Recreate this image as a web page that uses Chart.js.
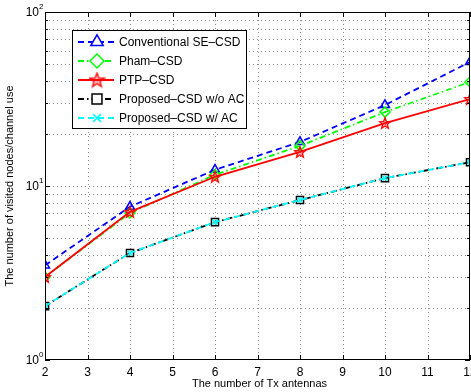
<!DOCTYPE html>
<html><head><meta charset="utf-8">
<script src="https://cdn.jsdelivr.net/npm/chart.js@4/dist/chart.umd.min.js"></script>
<style>html,body{margin:0;padding:0;background:#fff;overflow:hidden}</style>
</head><body>
<canvas id="c" width="471" height="392"></canvas>
<script>
// data
const txAntennas = [2, 4, 6, 8, 10, 12];
const conventional = [3.5, 7.6, 12.4, 17.9, 29.2, 51.6];
const pham = [3.0, 7.0, 11.6, 17.0, 26.6, 39.6];
const ptp = [3.0, 7.1, 11.3, 15.7, 23.0, 31.6];
const proposedNoAC = [2.04, 4.12, 6.2, 8.3, 11.1, 13.7];
const proposedAC = [2.04, 4.12, 6.2, 8.3, 11.1, 13.7];
const seriesNames = ["Conventional SE\u2013CSD", "Pham\u2013CSD", "PTP\u2013CSD", "Proposed\u2013CSD w/o AC", "Proposed\u2013CSD w/ AC"];
const xTicks = [2, 3, 4, 5, 6, 7, 8, 9, 10, 11, 12];
const yTicks = [1, 2, 3, 4, 5, 6, 7, 8, 9, 10, 20, 30, 40, 50, 60, 70, 80, 90, 100];
const yMajor = [1, 10, 100];
const yExp = ["0", "1", "2"];

const FONT = "'Liberation Sans', Arial, sans-serif";

// pentagram marker for PTP-CSD
function makeStar(color, outer) {
  const size = Math.ceil(outer * 2 + 2);
  const cv = document.createElement("canvas");
  cv.width = size; cv.height = size;
  const c = cv.getContext("2d");
  c.beginPath();
  for (let i = 0; i < 10; i++) {
    const r = i % 2 === 0 ? outer : outer * 0.43;
    const a = -Math.PI / 2 + i * Math.PI / 5;
    const px = size / 2 + r * Math.cos(a), py = size / 2 + 0.5 + r * Math.sin(a);
    if (i === 0) c.moveTo(px, py); else c.lineTo(px, py);
  }
  c.closePath();
  c.fillStyle = "rgba(255,0,0,0.3)";
  c.fill();
  c.strokeStyle = color;
  c.lineWidth = 1.3;
  c.stroke();
  return cv;
}
const starImg = makeStar("#ff0000", 5.8);
const starLegend = makeStar("#ff0000", 7.5);

function pts(ys) { return txAntennas.map((x, i) => ({ x: x, y: ys[i] })); }

const styles = [
  { color: "#0000ff", dash: [6, 4], point: "triangle", r: 5.2 },
  { color: "#00ff00", dash: [6, 3, 1.5, 3], point: "rectRot", r: 5 },
  { color: "#ff0000", dash: [], point: starImg, r: 6 },
  { color: "#000000", dash: [6, 3, 1.5, 3], point: "rect", r: 5 },
  { color: "#00ffff", dash: [6, 4], point: "crossRot", r: 3.5 }
];
const allSeries = [conventional, pham, ptp, proposedNoAC, proposedAC];

const datasets = allSeries.map((s, i) => ({
  label: seriesNames[i],
  data: pts(s),
  borderColor: styles[i].color,
  backgroundColor: "rgba(0,0,0,0)",
  borderWidth: 1.8,
  borderDash: styles[i].dash,
  pointStyle: styles[i].point,
  pointRadius: styles[i].r,
  pointBorderWidth: 1.5,
  pointBorderColor: styles[i].color,
  pointBackgroundColor: "rgba(0,0,0,0)",
  tension: 0,
  order: 4 - i
}));

const frame = {
  id: "frame",
  beforeDatasetsDraw(chart) {
    const { ctx, chartArea: a, scales: { x, y } } = chart;
    ctx.save();
    ctx.strokeStyle = "rgba(0,0,0,0.45)";
    ctx.lineWidth = 1;
    ctx.setLineDash([1, 3]);
    xTicks.forEach(v => {
      const px = Math.round(x.getPixelForValue(v)) + 0.5;
      if (px <= a.left + 1 || px >= a.right - 1) return;
      ctx.beginPath(); ctx.moveTo(px, a.top); ctx.lineTo(px, a.bottom); ctx.stroke();
    });
    yTicks.forEach(v => {
      const py = Math.round(y.getPixelForValue(v)) + 0.5;
      if (py <= a.top + 1 || py >= a.bottom - 1) return;
      ctx.beginPath(); ctx.moveTo(a.left, py); ctx.lineTo(a.right, py); ctx.stroke();
    });
    ctx.restore();
  },
  afterDatasetsDraw(chart) {
    const { ctx, chartArea: a, scales: { x, y } } = chart;
    ctx.save();
    ctx.strokeStyle = "#000";
    ctx.lineWidth = 1;
    ctx.setLineDash([]);
    ctx.strokeRect(a.left + 0.5, a.top + 0.5, a.right - a.left - 1, a.bottom - a.top - 1);
    // inward tick marks
    xTicks.forEach(v => {
      const px = Math.round(x.getPixelForValue(v)) + 0.5;
      ctx.beginPath();
      ctx.moveTo(px, a.bottom); ctx.lineTo(px, a.bottom - 5);
      ctx.moveTo(px, a.top); ctx.lineTo(px, a.top + 5);
      ctx.stroke();
    });
    yTicks.forEach(v => {
      const py = Math.round(y.getPixelForValue(v)) + 0.5;
      const len = yMajor.includes(v) ? 5 : 3;
      ctx.beginPath();
      ctx.moveTo(a.left, py); ctx.lineTo(a.left + len, py);
      ctx.moveTo(a.right, py); ctx.lineTo(a.right - len, py);
      ctx.stroke();
    });
    // x tick labels
    ctx.fillStyle = "#000";
    ctx.font = "12px " + FONT;
    ctx.textAlign = "center";
    ctx.textBaseline = "middle";
    xTicks.forEach(v => { ctx.fillText(String(v), x.getPixelForValue(v), a.bottom + 13); });
    // y tick labels 10^n
    yMajor.forEach((v, i) => {
      const py = y.getPixelForValue(v);
      ctx.font = "12px " + FONT;
      ctx.textAlign = "right";
      ctx.textBaseline = "middle";
      ctx.fillText("10", a.left - 6, py + 1);
      ctx.font = "8px " + FONT;
      ctx.textAlign = "left";
      ctx.fillText(yExp[i], a.left - 6, py - 5);
    });
    // axis titles
    ctx.font = "11px " + FONT;
    ctx.textAlign = "center";
    ctx.textBaseline = "middle";
    ctx.fillText("The number of Tx antennas", (a.left + a.right) / 2 + 2, 384);
    ctx.save();
    ctx.translate(10, (a.top + a.bottom) / 2);
    ctx.rotate(-Math.PI / 2);
    ctx.fillText("The number of visited nodes/channel use", 0, 0);
    ctx.restore();
    // legend box
    const lx = 72, ly = 30, lw = 174, lh = 98;
    ctx.fillStyle = "#fff";
    ctx.fillRect(lx, ly, lw, lh);
    ctx.strokeStyle = "#000";
    ctx.strokeRect(lx + 0.5, ly + 0.5, lw, lh);
    chart.data.datasets.forEach((ds, i) => {
      const cy = 42 + i * 19;
      ctx.save();
      ctx.strokeStyle = ds.borderColor;
      ctx.lineWidth = ds.borderWidth;
      ctx.setLineDash(ds.borderDash);
      ctx.beginPath(); ctx.moveTo(78, cy); ctx.lineTo(114, cy); ctx.stroke();
      ctx.setLineDash([]);
      ctx.lineWidth = ds.pointBorderWidth;
      ctx.strokeStyle = ds.pointBorderColor;
      ctx.fillStyle = "#fff";
      const ps = ds.pointStyle === starImg ? starLegend : ds.pointStyle;
      Chart.helpers.drawPoint(ctx, { pointStyle: ps, radius: ds.pointRadius + 2, rotation: 0, borderWidth: ds.pointBorderWidth }, 97, cy);
      ctx.restore();
      ctx.fillStyle = "#000";
      ctx.font = "12px " + FONT;
      ctx.textAlign = "left";
      ctx.textBaseline = "middle";
      ctx.fillText(ds.label, 119, cy + 1);
    });
    ctx.restore();
  }
};

new Chart(document.getElementById("c"), {
  type: "line",
  data: { datasets: datasets },
  options: {
    responsive: false,
    animation: false,
    layout: { autoPadding: false, padding: { top: 12, right: 1, left: 0, bottom: 0 } },
    plugins: { legend: { display: false }, tooltip: { enabled: false } },
    scales: {
      x: {
        type: "linear", min: 2, max: 12,
        afterBuildTicks: s => { s.ticks = xTicks.map(v => ({ value: v })); },
        afterFit: s => { s.height = 32; s.paddingLeft = 0; s.paddingRight = 0; },
        grid: { display: false, drawTicks: false },
        border: { display: false },
        ticks: { display: false }
      },
      y: {
        type: "logarithmic", min: 1, max: 100,
        afterBuildTicks: s => { s.ticks = yTicks.map(v => ({ value: v })); },
        afterFit: s => { s.width = 45; s.paddingTop = 0; s.paddingBottom = 0; },
        grid: { display: false, drawTicks: false },
        border: { display: false },
        ticks: { display: false }
      }
    }
  },
  plugins: [frame]
});
</script>
</body></html>
